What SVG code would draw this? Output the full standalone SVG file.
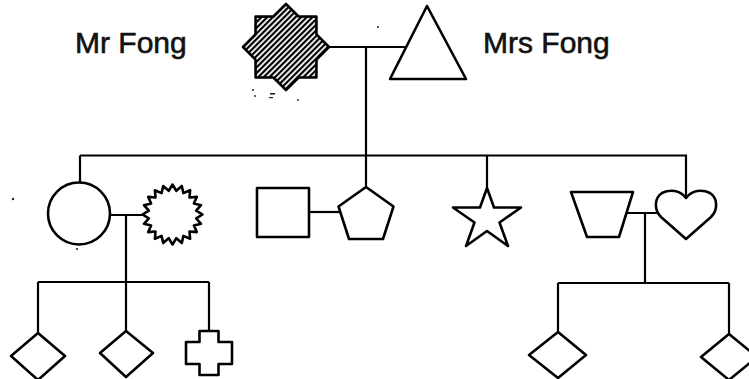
<svg xmlns="http://www.w3.org/2000/svg" width="749" height="379" viewBox="0 0 749 379">
<style>
.shape{fill:#fff;stroke:#000;stroke-width:2.6;stroke-linejoin:round}
.line{fill:none;stroke:#000;stroke-width:2.2}
.lbl{font-family:"Liberation Sans",Arial,sans-serif;font-size:30px;fill:#111;stroke:#111;stroke-width:0.6}
.speck{fill:#222}
</style>
<defs>
<pattern id="hatch" patternUnits="userSpaceOnUse" width="4" height="4" patternTransform="rotate(45)">
<rect x="0" y="0" width="4" height="4" fill="#fff"/>
<rect x="0" y="0" width="2.2" height="4" fill="#000"/>
</pattern>
</defs>
<rect width="749" height="379" fill="#fff"/>
<g id="connectors">
<path class="line" d="M329,47 H406 M366,47 V155.5"/>
<path class="line" d="M80,155.5 H686 V198"/>
<path class="line" d="M80,155.5 V182"/>
<path class="line" d="M366,155.5 V187"/>
<path class="line" d="M487,155.5 V188"/>
<path class="line" d="M110,215 H142.5 M126,215 V282 M38,282 H209 M38,282 V333 M126,282 V331 M209,282 V331"/>
<path class="line" d="M309,212 H340"/>
<path class="line" d="M626.5,213 H659 M645,213 V283 M558,283 H729 M558,283 V332 M729,283 V334"/>
</g>
<g id="mr-fong">
<polygon class="shape" style="fill:url(#hatch)" points="329,47 316.5,59.6 316.4,77.4 298.6,77.5 286,90 273.4,77.5 255.6,77.4 255.5,59.6 243,47 255.5,34.4 255.6,16.6 273.4,16.5 286,4 298.6,16.5 316.4,16.6 316.5,34.4"/>
<text class="lbl" x="75" y="53">Mr Fong</text>
</g>
<g id="mrs-fong">
<polygon class="shape" points="427,6 466,79 390,79"/>
<text class="lbl" x="483" y="53">Mrs Fong</text>
</g>
<g id="circle-child">
<circle class="shape" cx="79" cy="213.5" r="31"/>
</g>
<g id="sunburst-spouse">
<polygon class="shape" points="172.5,184.5 176.3,190.8 181.8,186 183.4,193.1 190.1,190.2 189.5,197.5 196.8,196.9 193.9,203.6 201,205.2 196.2,210.7 202.5,214.5 196.2,218.3 201,223.8 193.9,225.4 196.8,232.1 189.5,231.5 190.1,238.8 183.4,235.9 181.8,243 176.3,238.2 172.5,244.5 168.7,238.2 163.2,243 161.6,235.9 154.9,238.8 155.5,231.5 148.2,232.1 151.1,225.4 144,223.8 148.8,218.3 142.5,214.5 148.8,210.7 144,205.2 151.1,203.6 148.2,196.9 155.5,197.5 154.9,190.2 161.6,193.1 163.2,186 168.7,190.8"/>
</g>
<g id="square-spouse">
<rect class="shape" x="257" y="188" width="52" height="49"/>
</g>
<g id="pentagon-child">
<polygon class="shape" points="366,187 393.5,206.5 383,239 349,239 338.5,206.5"/>
</g>
<g id="star-child">
<polygon class="shape" points="487,188 494,207.5 521,207.5 499.5,222.5 508,246 487,231 466,246 474.5,222.5 453,207.5 480,207.5"/>
</g>
<g id="trapezoid-spouse">
<polygon class="shape" points="571,192 633,192 619,237 587,237"/>
</g>
<g id="heart-child">
<path class="shape" d="M686,198 C680,190 670,189 662,193 C654,198 654,210 661,217 L686,239 L711,217 C718,210 718,198 710,193 C702,189 692,190 686,198 Z"/>
</g>
<g id="grandchild-1">
<polygon class="shape" points="38,333 65,356 38,380 11,356"/>
</g>
<g id="grandchild-2">
<polygon class="shape" points="126,331 153,353 126,377 100,353"/>
</g>
<g id="grandchild-3">
<path class="shape" d="M199.5,331 H218.5 V342 H232 V364 H218.5 V375 H199.5 V364 H186 V342 H199.5 Z"/>
</g>
<g id="grandchild-4">
<polygon class="shape" points="558,332 586,355 558,378 529,355"/>
</g>
<g id="grandchild-5">
<polygon class="shape" points="729,334 757,357 729,380 701,357"/>
</g>
<g id="specks">
<circle class="speck" cx="13" cy="199" r="1.2"/>
<circle class="speck" cx="77" cy="249" r="1.1"/>
<circle class="speck" cx="378" cy="27" r="1"/>
<circle class="speck" cx="253" cy="90" r="1"/>
<circle class="speck" cx="255" cy="96" r="0.9"/>
<rect class="speck" x="270" y="93" width="5" height="1.6"/>
<rect class="speck" x="269" y="97" width="4" height="1.2"/>
<circle class="speck" cx="298" cy="100" r="0.9"/>
</g>
</svg>
